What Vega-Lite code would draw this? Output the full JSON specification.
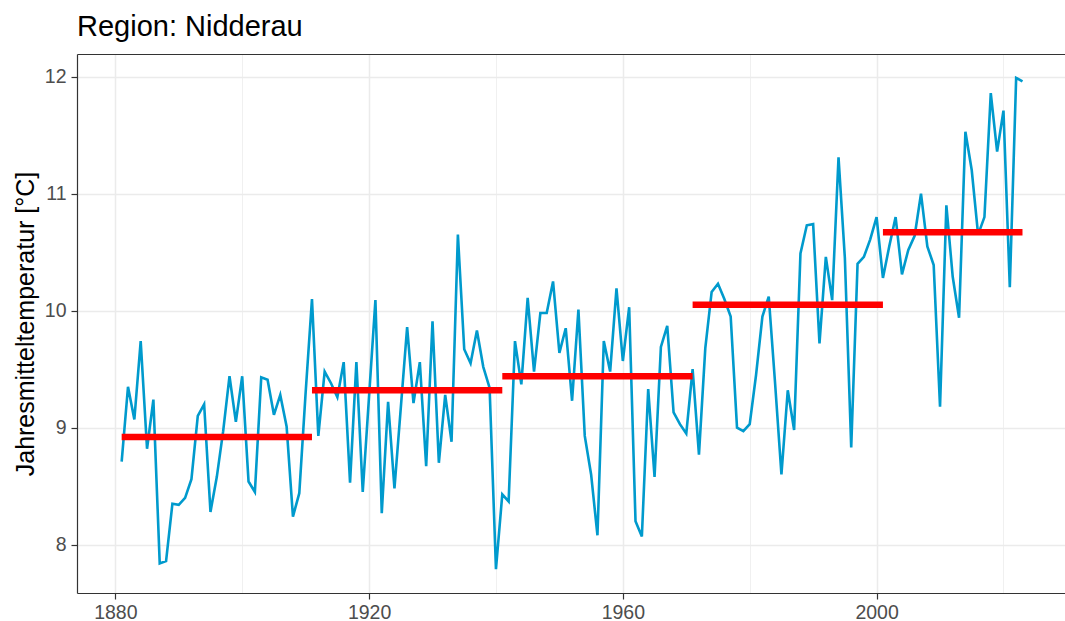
{
  "$schema": "https://vega.github.io/schema/vega-lite/v6.json",
  "width": 988,
  "height": 539,
  "autosize": {"type": "none"},
  "padding": {"left": 77, "top": 54, "right": 0, "bottom": 28},
  "background": "white",
  "title": {
    "text": "Region: Nidderau",
    "anchor": "start",
    "frame": "group",
    "font": "Liberation Sans",
    "fontSize": 29,
    "fontWeight": "normal",
    "color": "#000000",
    "baseline": "alphabetic",
    "offset": 19,
    "dy": 30
  },
  "config": {
    "view": {"stroke": null},
    "axis": {
      "labelFont": "Liberation Sans",
      "labelFontSize": 19.5,
      "labelColor": "#4D4D4D",
      "tickColor": "#333333",
      "tickWidth": 1.2,
      "tickSize": 6,
      "domainColor": "#333333",
      "domainWidth": 1.2,
      "gridColor": "#EBEBEB",
      "titleFont": "Liberation Sans",
      "titleFontSize": 25,
      "titleFontWeight": "normal",
      "titleColor": "#000000"
    }
  },
  "datasets": {
    "temps": [
      {"year": 1881, "temp": 8.71}, {"year": 1882, "temp": 9.35}, {"year": 1883, "temp": 9.07}, {"year": 1884, "temp": 9.74},
      {"year": 1885, "temp": 8.82}, {"year": 1886, "temp": 9.24}, {"year": 1887, "temp": 7.84}, {"year": 1888, "temp": 7.86},
      {"year": 1889, "temp": 8.35}, {"year": 1890, "temp": 8.34}, {"year": 1891, "temp": 8.40}, {"year": 1892, "temp": 8.56},
      {"year": 1893, "temp": 9.10}, {"year": 1894, "temp": 9.20}, {"year": 1895, "temp": 8.28}, {"year": 1896, "temp": 8.58},
      {"year": 1897, "temp": 8.97}, {"year": 1898, "temp": 9.44}, {"year": 1899, "temp": 9.05}, {"year": 1900, "temp": 9.44},
      {"year": 1901, "temp": 8.54}, {"year": 1902, "temp": 8.45}, {"year": 1903, "temp": 9.43}, {"year": 1904, "temp": 9.41},
      {"year": 1905, "temp": 9.11}, {"year": 1906, "temp": 9.28}, {"year": 1907, "temp": 9.01}, {"year": 1908, "temp": 8.24},
      {"year": 1909, "temp": 8.44}, {"year": 1910, "temp": 9.30}, {"year": 1911, "temp": 10.10}, {"year": 1912, "temp": 8.93},
      {"year": 1913, "temp": 9.48}, {"year": 1914, "temp": 9.38}, {"year": 1915, "temp": 9.26}, {"year": 1916, "temp": 9.56},
      {"year": 1917, "temp": 8.53}, {"year": 1918, "temp": 9.56}, {"year": 1919, "temp": 8.45}, {"year": 1920, "temp": 9.27},
      {"year": 1921, "temp": 10.09}, {"year": 1922, "temp": 8.27}, {"year": 1923, "temp": 9.22}, {"year": 1924, "temp": 8.48},
      {"year": 1925, "temp": 9.17}, {"year": 1926, "temp": 9.86}, {"year": 1927, "temp": 9.21}, {"year": 1928, "temp": 9.56},
      {"year": 1929, "temp": 8.67}, {"year": 1930, "temp": 9.91}, {"year": 1931, "temp": 8.70}, {"year": 1932, "temp": 9.28},
      {"year": 1933, "temp": 8.88}, {"year": 1934, "temp": 10.65}, {"year": 1935, "temp": 9.67}, {"year": 1936, "temp": 9.55},
      {"year": 1937, "temp": 9.83}, {"year": 1938, "temp": 9.52}, {"year": 1939, "temp": 9.34}, {"year": 1940, "temp": 7.79},
      {"year": 1941, "temp": 8.43}, {"year": 1942, "temp": 8.37}, {"year": 1943, "temp": 9.74}, {"year": 1944, "temp": 9.37},
      {"year": 1945, "temp": 10.11}, {"year": 1946, "temp": 9.48}, {"year": 1947, "temp": 9.98}, {"year": 1948, "temp": 9.98},
      {"year": 1949, "temp": 10.25}, {"year": 1950, "temp": 9.64}, {"year": 1951, "temp": 9.85}, {"year": 1952, "temp": 9.23},
      {"year": 1953, "temp": 10.01}, {"year": 1954, "temp": 8.93}, {"year": 1955, "temp": 8.60}, {"year": 1956, "temp": 8.08},
      {"year": 1957, "temp": 9.74}, {"year": 1958, "temp": 9.48}, {"year": 1959, "temp": 10.19}, {"year": 1960, "temp": 9.57},
      {"year": 1961, "temp": 10.03}, {"year": 1962, "temp": 8.20}, {"year": 1963, "temp": 8.07}, {"year": 1964, "temp": 9.33},
      {"year": 1965, "temp": 8.58}, {"year": 1966, "temp": 9.69}, {"year": 1967, "temp": 9.87}, {"year": 1968, "temp": 9.13},
      {"year": 1969, "temp": 9.03}, {"year": 1970, "temp": 8.95}, {"year": 1971, "temp": 9.50}, {"year": 1972, "temp": 8.77},
      {"year": 1973, "temp": 9.68}, {"year": 1974, "temp": 10.16}, {"year": 1975, "temp": 10.23}, {"year": 1976, "temp": 10.10},
      {"year": 1977, "temp": 9.95}, {"year": 1978, "temp": 9.00}, {"year": 1979, "temp": 8.97}, {"year": 1980, "temp": 9.03},
      {"year": 1981, "temp": 9.45}, {"year": 1982, "temp": 9.95}, {"year": 1983, "temp": 10.12}, {"year": 1984, "temp": 9.38},
      {"year": 1985, "temp": 8.60}, {"year": 1986, "temp": 9.32}, {"year": 1987, "temp": 8.98}, {"year": 1988, "temp": 10.49},
      {"year": 1989, "temp": 10.73}, {"year": 1990, "temp": 10.74}, {"year": 1991, "temp": 9.72}, {"year": 1992, "temp": 10.46},
      {"year": 1993, "temp": 10.09}, {"year": 1994, "temp": 11.31}, {"year": 1995, "temp": 10.45}, {"year": 1996, "temp": 8.83},
      {"year": 1997, "temp": 10.40}, {"year": 1998, "temp": 10.46}, {"year": 1999, "temp": 10.61}, {"year": 2000, "temp": 10.80},
      {"year": 2001, "temp": 10.28}, {"year": 2002, "temp": 10.55}, {"year": 2003, "temp": 10.80}, {"year": 2004, "temp": 10.31},
      {"year": 2005, "temp": 10.52}, {"year": 2006, "temp": 10.64}, {"year": 2007, "temp": 11.00}, {"year": 2008, "temp": 10.55},
      {"year": 2009, "temp": 10.39}, {"year": 2010, "temp": 9.18}, {"year": 2011, "temp": 10.90}, {"year": 2012, "temp": 10.29},
      {"year": 2013, "temp": 9.94}, {"year": 2014, "temp": 11.53}, {"year": 2015, "temp": 11.20}, {"year": 2016, "temp": 10.65},
      {"year": 2017, "temp": 10.80}, {"year": 2018, "temp": 11.86}, {"year": 2019, "temp": 11.36}, {"year": 2020, "temp": 11.71},
      {"year": 2021, "temp": 10.20}, {"year": 2022, "temp": 11.99}, {"year": 2023, "temp": 11.96}
    ],
    "means": [
      {"start": 1881, "end": 1911, "mean": 8.92},
      {"start": 1911, "end": 1941, "mean": 9.32},
      {"start": 1941, "end": 1971, "mean": 9.44},
      {"start": 1971, "end": 2001, "mean": 10.05},
      {"start": 2001, "end": 2023, "mean": 10.67}
    ]
  },
  "layer": [
    {
      "data": {"name": "temps"},
      "mark": {"type": "line", "color": "#009ACD", "strokeWidth": 2.6},
      "encoding": {
        "x": {
          "field": "year",
          "type": "quantitative",
          "scale": {"domain": [1873.96, 2029.7], "nice": false, "zero": false},
          "axis": {
            "orient": "bottom",
            "title": null,
            "values": [1880, 1900, 1920, 1940, 1960, 1980, 2000, 2020],
            "format": "d",
            "labelExpr": "datum.value % 40 === 0 ? datum.label : ''",
            "grid": true,
            "gridWidth": {"condition": {"test": "datum.value % 40 === 0", "value": 1.5}, "value": 0.75},
            "tickOpacity": {"condition": {"test": "datum.value % 40 === 0", "value": 1}, "value": 0},
            "labelPadding": 4,
            "labelFlush": false,
            "labelOverlap": false
          }
        },
        "y": {
          "field": "temp",
          "type": "quantitative",
          "scale": {"domain": [7.587, 12.194], "nice": false, "zero": false},
          "axis": {
            "orient": "left",
            "title": "Jahresmitteltemperatur [°C]",
            "values": [8, 8.5, 9, 9.5, 10, 10.5, 11, 11.5, 12],
            "format": "d",
            "labelExpr": "datum.value % 1 === 0 ? datum.label : ''",
            "grid": true,
            "gridWidth": {"condition": {"test": "datum.value % 1 === 0", "value": 1.5}, "value": 0.75},
            "tickOpacity": {"condition": {"test": "datum.value % 1 === 0", "value": 1}, "value": 0},
            "labelPadding": 5,
            "labelFlush": false,
            "labelOverlap": false,
            "titlePadding": 6
          }
        }
      }
    },
    {
      "data": {"name": "means"},
      "mark": {"type": "rule", "color": "#FF0000", "strokeWidth": 6.5, "strokeCap": "butt"},
      "encoding": {
        "x": {
          "field": "start",
          "type": "quantitative",
          "axis": {"orient": "top", "domain": true, "ticks": false, "labels": false, "grid": false, "title": null}
        },
        "x2": {"field": "end"},
        "y": {"field": "mean", "type": "quantitative", "title": "Jahresmitteltemperatur [°C]"}
      }
    }
  ],
  "resolve": {"axis": {"x": "independent"}}
}
